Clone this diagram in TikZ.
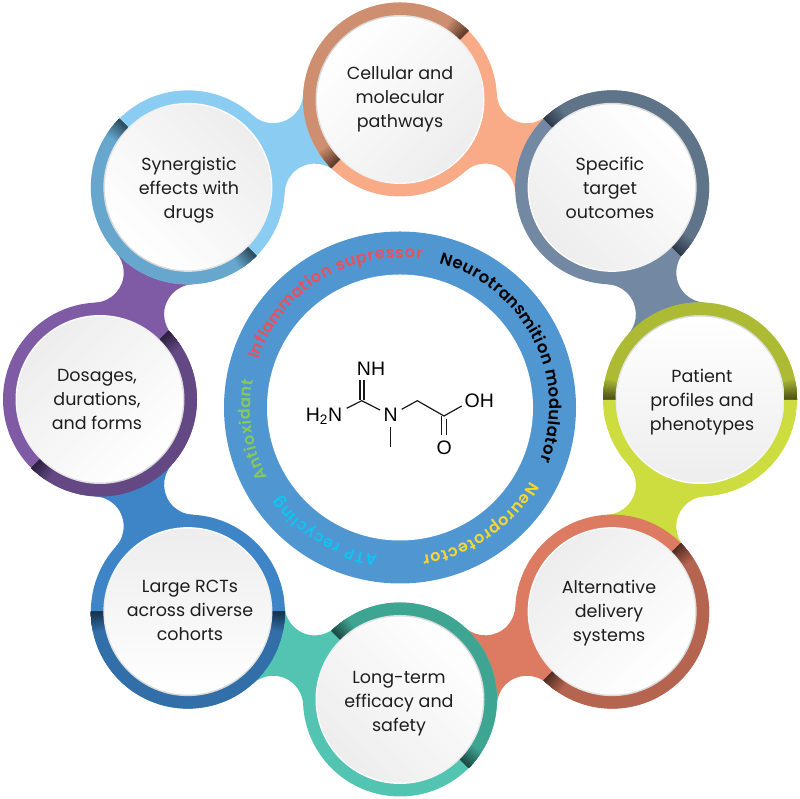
\documentclass[tikz,border=0pt]{standalone}
\usepackage{fontspec}
\setmainfont{Poppins}
\newfontfamily\chemfont{Liberation Sans}
\newfontfamily\ringfont{Poppins SemiBold}
\usetikzlibrary{calc}
\definecolor{aL}{HTML}{F9AB88}\definecolor{aD}{HTML}{CE8F70}\definecolor{aE}{HTML}{573526}
\definecolor{bL}{HTML}{7389A3}\definecolor{bD}{HTML}{5F7389}\definecolor{bE}{HTML}{2B3644}
\definecolor{cL}{HTML}{CDDC3F}\definecolor{cD}{HTML}{ACBB33}\definecolor{cE}{HTML}{474B18}
\definecolor{dL}{HTML}{DC7A62}\definecolor{dD}{HTML}{B5644F}\definecolor{dE}{HTML}{4A2820}
\definecolor{eL}{HTML}{53C4B1}\definecolor{eD}{HTML}{3FA593}\definecolor{eE}{HTML}{1A443C}
\definecolor{fL}{HTML}{3D85C6}\definecolor{fD}{HTML}{326FA8}\definecolor{fE}{HTML}{142D45}
\definecolor{gL}{HTML}{7F5BA6}\definecolor{gD}{HTML}{634884}\definecolor{gE}{HTML}{291D3B}
\definecolor{hL}{HTML}{8BCDF2}\definecolor{hD}{HTML}{67A7CE}\definecolor{hE}{HTML}{284656}
\definecolor{hubblue}{HTML}{5097D2}
\definecolor{inkdark}{HTML}{1E1E1E}
\definecolor{redtxt}{HTML}{EC4F5C}
\definecolor{greentxt}{HTML}{86C95A}
\definecolor{yellowtxt}{HTML}{F8D62E}
\definecolor{cyantxt}{HTML}{10C4F0}
\newcommand\rOut{97}
\newcommand\rIn{84}
\newcommand\ph{\vphantom{Ag}}
\newdimen\arcsum
\newdimen\arcpos
\newcount\arcnum
% #1 start angle, #2 end angle (clockwise), #3 radius, #4 colour, #5 size, #6 list of letter/width-in-em
\newcommand\ArcText[6]{%
  \global\arcsum=0pt \global\arcnum=0
  \foreach \ch/\chw in {#6}{%
    \pgfmathsetmacro\wpt{\chw*#5}%
    \global\advance\arcsum by \wpt pt
    \global\advance\arcnum by 1 }%
  \pgfmathsetmacro\arclen{(#1-(#2))*3.14159265/180*#3}%
  \pgfmathsetmacro\track{(\arclen-\arcsum/1pt)/(\the\arcnum-1)}%
  \global\arcpos=0pt
  \foreach \ch/\chw in {#6}{%
    \pgfmathsetmacro\wpt{\chw*#5}%
    \pgfmathsetmacro\ang{#1-(\arcpos/1pt+\wpt/2)/#3*180/3.14159265}%
    \node[anchor=base,inner sep=0pt,text=#4,rotate=\ang-90,
      font=\ringfont\fontsize{#5}{18}\selectfont] at (\ang:#3) {\ch};
    \global\advance\arcpos by \wpt pt
    \global\advance\arcpos by \track pt }%
}
\newcommand\Neck[4]{%
  \begin{scope}[shift={($(#1)!.5!(#2)$)},rotate=#3]
    \fill[#4] (-27.1,41.5) arc[start angle=205.3,end angle=334.7,radius=30]
      -- (27.1,-41.5) arc[start angle=25.3,end angle=154.7,radius=30] -- cycle;
  \end{scope}}
\newcommand\Petal[2]{%
  \pgfmathsetmacro\sA{#2}\pgfmathsetmacro\sB{#2+180}
  \fill[#1L,shift={(#1c)}] (0,0) circle[radius=\rOut];
  \begin{scope}[shift={(#1c)}]
    \fill[#1D] (\sA:\rOut) arc[start angle=\sA,end angle=\sB,radius=\rOut]
      -- (\sB:\rIn) arc[start angle=\sB,end angle=\sA,radius=\rIn] -- cycle;
    \foreach \i in {10,9,...,1}{
      \pgfmathsetmacro\dd{1.2*\i}
      \pgfmathsetmacro\mx{100-9*\i}
      \pgfmathsetmacro\eA{\sA+\dd}
      \pgfmathsetmacro\eB{\sB-\dd}
      \fill[#1E!\mx!#1D] (\sA:\rOut) arc[start angle=\sA,end angle=\eA,radius=\rOut]
        -- (\eA:\rIn) arc[start angle=\eA,end angle=\sA,radius=\rIn] -- cycle;
      \fill[#1E!\mx!#1D] (\sB:\rOut) arc[start angle=\sB,end angle=\eB,radius=\rOut]
        -- (\eB:\rIn) arc[start angle=\eB,end angle=\sB,radius=\rIn] -- cycle;
    }
    \shade[top color=black!16,bottom color=white,shading angle=#2] (0,0) circle[radius=84.5];
    \shade[top color=white,bottom color=black!7,shading angle=#2] (0,0) circle[radius=83];
  \end{scope}}
\tikzset{
  petaltext/.style={align=center,text=inkdark,font=\fontsize{17.5}{24}\selectfont,inner sep=0pt},
  atom/.style={font=\chemfont\fontsize{19.5}{20}\selectfont,inner sep=0pt,text=black},
  bond/.style={line width=1.2pt,draw=black!90}
}
\begin{document}
\begin{tikzpicture}[x=1pt,y=1pt]
\useasboundingbox (0,0) rectangle (800,799);
\fill[white] (0,0) rectangle (800,799);
\coordinate (orbit) at (400,399.5);
\coordinate (ac) at ($(orbit)+(90:300)$);
\coordinate (bc) at ($(orbit)+(45:300)$);
\coordinate (cc) at ($(orbit)+(0:300)$);
\coordinate (dc) at ($(orbit)+(-45:300)$);
\coordinate (ec) at ($(orbit)+(-90:300)$);
\coordinate (fc) at ($(orbit)+(-135:300)$);
\coordinate (gc) at ($(orbit)+(180:300)$);
\coordinate (hc) at ($(orbit)+(135:300)$);
% necks
\Neck{ac}{bc}{-22.5}{aL}
\Neck{bc}{cc}{-67.5}{bL}
\Neck{cc}{dc}{-112.5}{cL}
\Neck{dc}{ec}{-157.5}{dL}
\Neck{ec}{fc}{-202.5}{eL}
\Neck{fc}{gc}{-247.5}{fL}
\Neck{gc}{hc}{-292.5}{gL}
\Neck{hc}{ac}{-337.5}{hL}
% rings
\Petal{a}{45}
\Petal{b}{-45}
\Petal{c}{0}
\Petal{d}{225}
\Petal{e}{-45}
\Petal{f}{180}
\Petal{g}{225}
\Petal{h}{135}
% labels
\node[petaltext] (ta) at (400,700) {\ph Cellular and\\molecular\\pathways\ph};
\node[petaltext] (tb) at (610,609) {\ph Specific\\target\\outcomes\ph};
\node[petaltext] (tc) at (702,397) {\ph Patient\\profiles and\\phenotypes\ph};
\node[petaltext] (td) at (609,186) {\ph Alternative\\delivery\\systems\ph};
\node[petaltext] (te) at (399,95) {\ph Long-term\\efficacy and\\safety\ph};
\node[petaltext] (tf) at (190,186) {\ph Large RCTs\\across diverse\\cohorts\ph};
\node[petaltext] (tg) at (97,397) {\ph Dosages,\\durations,\\and forms\ph};
\node[petaltext] (th) at (189,609) {\ph Synergistic\\effects with\\drugs\ph};
% hub
\coordinate (hub) at (400,391.5);
\fill[hubblue] (hub) circle[radius=176];
\fill[white] (hub) circle[radius=133];
\begin{scope}[shift={(hub)}]
\ArcText{75}{-20.7}{149.5}{black}{16.5}{N/.76,e/.62,u/.64,r/.41,o/.64,t/.39,r/.41,a/.64,n/.64,s/.52,m/.97,i/.27,t/.39,i/.27,o/.64,n/.64,~/.28,m/.97,o/.64,d/.66,u/.64,l/.27,a/.64,t/.39,o/.64,r/.41}
\ArcText{161.5}{81.5}{149.5}{redtxt}{16}{I/.29,n/.64,f/.37,l/.27,a/.64,m/.97,m/.97,a/.64,t/.39,i/.27,o/.64,n/.64,~/.28,s/.52,u/.64,p/.66,r/.41,e/.62,s/.52,s/.52,o/.64,r/.41}
\ArcText{208}{169.4}{149.5}{greentxt}{16}{A/.74,n/.64,t/.39,i/.27,o/.64,x/.58,i/.27,d/.66,a/.64,n/.64,t/.39}
\ArcText{-29.5}{-81.5}{149.5}{yellowtxt}{16}{N/.76,e/.62,u/.64,r/.41,o/.64,p/.66,r/.41,o/.64,t/.39,e/.62,c/.60,t/.39,o/.64,r/.41}
\ArcText{-98.5}{-143.7}{149.5}{cyantxt}{15.5}{A/.74,T/.60,P/.63,~/.28,r/.41,e/.62,c/.60,y/.58,c/.60,l/.27,i/.27,n/.64,g/.66}
\end{scope}
% molecule
\node[atom] (nh) at (371,429.7) {NH};
\node[atom] (hn) at (324,382.3) {H\textsubscript{2}N};
\node[atom] (n) at (390.7,384) {N};
\node[atom] (oh) at (479.3,398.3) {OH};
\node[atom] (o) at (444.3,351.7) {O};
\coordinate (guan) at (361.7,398.3);
\coordinate (ch2) at (417.3,398.3);
\coordinate (acid) at (444,383);
\coordinate (me) at (390.7,352.3);
\draw[bond] (360,399) -- (360,419);
\draw[bond] (364,399) -- (364,419);
\draw[bond] (346.7,390.7) -- (guan) -- (380,389);
\draw[bond] (401.7,389.7) -- (ch2) -- (acid) -- (461.7,393);
\draw[bond] (441.7,383) -- (441.7,364);
\draw[bond] (446.7,380) -- (446.7,364);
\draw[bond] (390.7,372.3) -- (me);
\end{tikzpicture}
\end{document}
